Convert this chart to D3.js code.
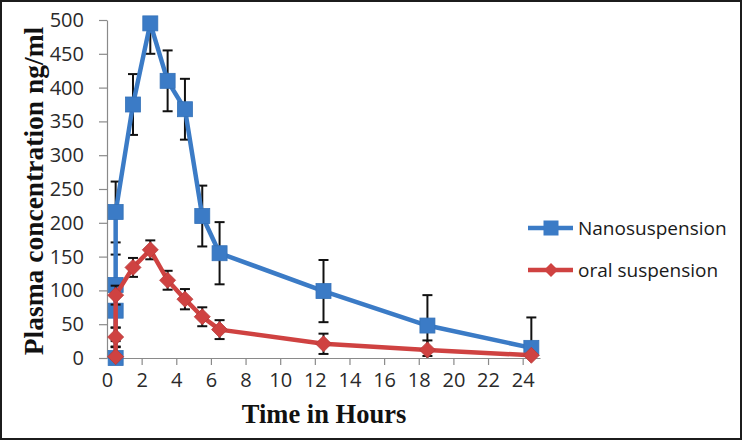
<!DOCTYPE html>
<html><head><meta charset="utf-8">
<script src="https://cdn.jsdelivr.net/npm/d3@7"></script>
<style>html,body{margin:0;padding:0;background:#fff;}svg{display:block;}</style>
</head><body>
<svg id="chart" width="742" height="440"></svg>
<script>
// Data
const seriesNames = ["Nanosuspension", "oral suspension"];
const nanoTime  = [0.5, 0.5, 0.5, 0.5, 1.5, 2.5, 3.5, 4.5, 5.5, 6.5, 12.5, 18.5, 24.5];
const nanoConc  = [0, 70, 108, 216, 375, 495, 410, 368, 210, 155, 99, 48, 15];
const nanoErr   = [45, 45, 45, 45, 45, 45, 45, 45, 45, 46, 46, 45, 45];
const oralTime  = [0.5, 0.5, 0.5, 1.5, 2.5, 3.5, 4.5, 5.5, 6.5, 12.5, 18.5, 24.5];
const oralConc  = [2, 31, 93, 134, 160, 115, 87, 61, 42, 21, 12, 4];
const oralErr   = [14, 14, 14, 14, 14, 14, 15, 14, 14, 15, 14, 0];
const xTicks = [0, 2, 4, 6, 8, 10, 12, 14, 16, 18, 20, 22, 24];
const yTicks = [0, 50, 100, 150, 200, 250, 300, 350, 400, 450, 500];

const blue = "#3b7bc6", red = "#cf4241";
const svg = d3.select("#chart");
svg.append("rect").attr("x",1).attr("y",1).attr("width",740).attr("height",438)
  .attr("fill","#fff").attr("stroke","#1c1c1c").attr("stroke-width",2);

const x = d3.scaleLinear().domain([0, 25]).range([107, 540]);
const y = d3.scaleLinear().domain([0, 500]).range([358, 20]);

// axes
const gx = svg.append("g").attr("transform","translate(0,358)")
  .call(d3.axisBottom(x).tickValues(xTicks).tickSize(7).tickSizeOuter(0).tickPadding(8));
const gy = svg.append("g").attr("transform","translate(107,0)")
  .call(d3.axisLeft(y).tickValues(yTicks).tickSize(8).tickSizeOuter(0).tickPadding(15));
[gx, gy].forEach(g => {
  g.select(".domain").attr("stroke","#8a8a8a").attr("stroke-width",1.2);
  g.selectAll(".tick line").attr("stroke","#8a8a8a").attr("stroke-width",1.2);
  g.selectAll(".tick text").attr("fill","#2a2a2a")
    .style("font-family","'Open Sans', sans-serif").style("font-size","20px");
});
gx.selectAll(".tick").filter(d => d === 0).select("line").remove();

// axis titles
svg.append("text").attr("x",324).attr("y",423).attr("text-anchor","middle")
  .style("font-family","'Liberation Serif','Times New Roman',serif").style("font-weight","bold")
  .style("font-size","26.5px").attr("fill","#111").text("Time in Hours");
svg.append("text").attr("transform","translate(43,191) rotate(-90)").attr("text-anchor","middle")
  .style("font-family","'Liberation Serif','Times New Roman',serif").style("font-weight","bold")
  .style("font-size","27.5px").attr("fill","#111").text("Plasma concentration ng/ml");

// error bars are clipped to the plot area
svg.append("clipPath").attr("id","plotclip").append("rect")
  .attr("x",100).attr("y",20).attr("width",460).attr("height",338);

function drawSeries(times, vals, errs, color, marker) {
  const pts = times.map((t,i) => ({t, v: vals[i], e: errs[i]}));
  const eg = svg.append("g").attr("clip-path","url(#plotclip)")
    .attr("stroke","#111").attr("stroke-width",2);
  pts.filter(p => p.e > 0).forEach(p => {
    const cx = x(p.t);
    eg.append("line").attr("x1",cx).attr("x2",cx).attr("y1",y(p.v - p.e)).attr("y2",y(p.v + p.e));
    [p.v - p.e, p.v + p.e].forEach(vv => {
      eg.append("line").attr("x1",cx-5).attr("x2",cx+5).attr("y1",y(vv)).attr("y2",y(vv));
    });
  });
  svg.append("path").datum(pts)
    .attr("d", d3.line().x(p => x(p.t)).y(p => y(p.v)))
    .attr("fill","none").attr("stroke",color).attr("stroke-width",4.5).attr("stroke-linejoin","round");
  const mg = svg.append("g");
  pts.forEach(p => {
    if (marker === "square") {
      mg.append("rect").attr("x",x(p.t)-7.5).attr("y",y(p.v)-7.5).attr("width",15).attr("height",15)
        .attr("fill",color).attr("stroke","#3572b8").attr("stroke-width",0.8);
    } else {
      mg.append("path").attr("transform",`translate(${x(p.t)},${y(p.v)})`)
        .attr("d","M0,-8L8,0L0,8L-8,0Z").attr("fill",color).attr("stroke","#b83a3a").attr("stroke-width",0.8);
    }
  });
}
drawSeries(nanoTime, nanoConc, nanoErr, blue, "square");
drawSeries(oralTime, oralConc, oralErr, red, "diamond");

// legend
const legend = [
  {name: seriesNames[0], color: blue, marker: "square", ly: 228},
  {name: seriesNames[1], color: red, marker: "diamond", ly: 270}
];
legend.forEach(l => {
  svg.append("line").attr("x1",528).attr("x2",573).attr("y1",l.ly).attr("y2",l.ly)
    .attr("stroke",l.color).attr("stroke-width",4.5);
  if (l.marker === "square") {
    svg.append("rect").attr("x",551-7.5).attr("y",l.ly-7.5).attr("width",15).attr("height",15).attr("fill",l.color);
  } else {
    svg.append("path").attr("transform",`translate(551,${l.ly})`).attr("d","M0,-7L7,0L0,7L-7,0Z").attr("fill",l.color);
  }
  svg.append("text").attr("x",578).attr("y",l.ly+7).attr("fill","#1a1a1a")
    .style("font-family","'Open Sans', sans-serif").style("font-size","19px").text(l.name);
});
</script>
</body></html>
